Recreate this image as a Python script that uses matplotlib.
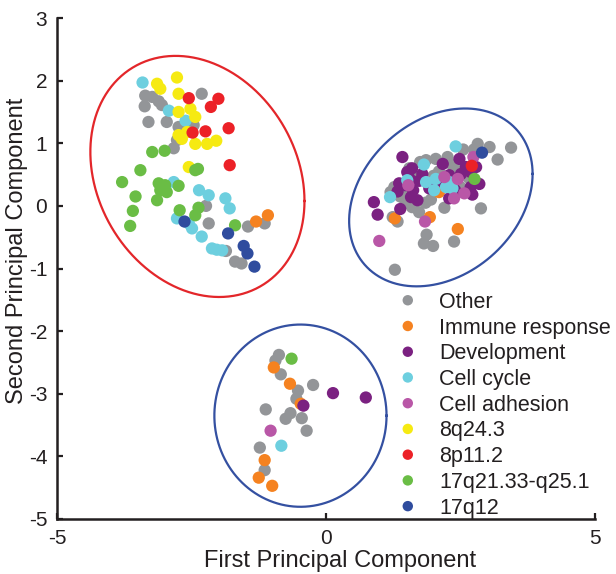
import numpy as np
import matplotlib
matplotlib.use("Agg")
import matplotlib.pyplot as plt

plt.rcParams['font.family'] = ['Liberation Sans', 'DejaVu Sans']
plt.rcParams['axes.unicode_minus'] = False

# ---------------- data ----------------
categories = ["Other", "Immune response", "Development", "Cell cycle",
              "Cell adhesion", "8q24.3", "8p11.2", "17q21.33-q25.1", "17q12"]
colors = ["#939598", "#F58220", "#7B2181", "#6DCFDF", "#B957A7",
          "#F6EA12", "#EC2127", "#6ABD45", "#2F4C9E"]

other_x = [-2.31, -3.36, -3.23, -3.11, -3.05, -3.37, -3.30, -2.96, -2.74, -2.46,
           -2.68, -2.77, -2.83, -2.23, -2.18, -1.45, -1.14, -1.86, -1.69, -1.57,
           1.28, 1.82, 1.99, 1.87, 2.38, 2.88, 1.24, 1.33, 1.73, 2.20,
           1.27, 1.20, 1.86, 2.04, 2.26, 2.82, 3.04, 3.19, 3.44, 1.48,
           1.60, 1.95, 2.10, 2.45, 2.65, 1.38, 1.70, 2.75,
           1.55, 1.75, 2.00, 2.35, 2.55, 1.45, 1.85, 2.50,
           -0.875, -0.94, -0.84, -0.24, -0.52, -0.55, -1.12, -0.66, -0.75, -0.45,
           -0.36, -1.23, -1.14]
other_y = [1.79, 1.76, 1.74, 1.67, 1.61, 1.59, 1.34, 1.34, 1.26, 1.29,
           1.18, 1.05, 0.92, 0.00, -0.28, -0.33, -0.28, -0.72, -0.89, -0.92,
           -1.02, -0.60, -0.64, -0.46, -0.57, -0.04, -0.18, -0.25, -0.10, -0.03,
           0.30, 0.22, 0.73, 0.75, 0.78, 0.99, 0.94, 0.74, 0.93, 0.05,
           -0.02, 0.10, 0.55, 0.60, 0.45, 0.15, 0.45, 0.90,
           0.60, 0.70, 0.48, 0.65, 0.90, 0.20, 0.05, 0.30,
           -2.38, -2.47, -2.69, -2.86, -2.95, -3.08, -3.25, -3.31, -3.40, -3.39,
           -3.59, -3.86, -4.22]

immune_x = [-1.30, -1.08, 1.28, 1.93, 2.45, 2.10,
            -0.97, -0.67, -0.47, -1.14, -1.25, -1.00]
immune_y = [-0.25, -0.15, -0.20, -0.18, -0.37, 0.22,
            -2.58, -2.84, -3.16, -4.06, -4.34, -4.47]

devel_x = [1.42, 0.89, 0.96, 1.38, 1.33, 1.51, 1.58, 1.70, 1.48, 1.36,
           1.79, 2.17, 1.92, 2.29, 2.48, 2.60, 2.69, 2.51, 2.69, 2.79,
           1.55, 1.73, 2.29, 2.72, 1.62, 1.60, 2.10, 2.40, 2.85,
           -0.42, 0.13, 0.74]
devel_y = [0.78, 0.06, -0.14, -0.05, 0.23, 0.54, 0.14, 0.09, 0.33, 0.36,
           0.51, 0.67, 0.28, 0.49, 0.75, 0.62, 0.30, 0.51, 0.54, 0.62,
           0.44, 0.40, 0.12, 0.18, 0.25, 0.60, 0.40, 0.25, 0.35,
           -3.19, -2.99, -3.06]

cycle_x = [-3.41, -2.92, -2.61, -2.83, -2.36, -2.18, -1.87, -1.79, -2.77, -2.49,
           -2.55, -2.31, -2.12, -1.93, -2.03,
           1.19, 1.51, 1.82, 1.86, 2.01, 2.04, 2.23, 2.35, 2.29, 2.41,
           -0.83]
cycle_y = [1.97, 1.52, 1.36, 0.38, 0.25, 0.17, 0.12, -0.04, -0.20, -0.36,
           -0.28, -0.49, -0.68, -0.71, -0.70,
           0.14, 0.41, 0.66, 0.38, 0.25, 0.43, 0.30, 0.28, 0.38, 0.95,
           -3.83]

adhesion_x = [0.99, 1.84, 1.53, 2.20, 2.38, 2.57, 2.45, 2.74, -1.03]
adhesion_y = [-0.56, -0.25, 0.33, 0.46, 0.12, 0.20, 0.43, 0.78, -3.59]

q243_x = [-3.14, -3.08, -2.77, -2.74, -2.74, -2.52, -2.43, -2.74, -2.68, -2.58,
          -2.43, -2.21, -2.04, -2.55]
q243_y = [1.95, 1.87, 2.05, 1.79, 1.50, 1.55, 1.42, 1.13, 1.07, 1.18,
          0.99, 0.99, 1.04, 0.62]

p112_x = [-2.55, -2.00, -2.14, -2.48, -2.24, -1.81, -1.79, 2.71]
p112_y = [1.72, 1.71, 1.58, 1.17, 1.19, 1.24, 0.65, 0.64]

q21_x = [-3.23, -3.00, -2.43, -2.38, -3.45, -3.79, -3.11, -2.99, -3.08, -2.96,
         -2.74, -3.54, -3.14, -3.59, -3.64, -2.72, -2.37, -2.43, -1.69,
         2.76, -0.64]
q21_y = [0.86, 0.88, 0.57, 0.59, 0.57, 0.38, 0.36, 0.33, 0.25, 0.22,
         0.32, 0.15, 0.09, -0.08, -0.32, -0.07, -0.03, -0.15, -0.31,
         0.43, -2.44]

q12_x = [-2.63, -1.82, -1.53, -1.46, -1.33, 2.90]
q12_y = [-0.25, -0.44, -0.64, -0.76, -0.97, 0.85]

series_x = [other_x, immune_x, devel_x, cycle_x, adhesion_x, q243_x, p112_x, q21_x, q12_x]
series_y = [other_y, immune_y, devel_y, cycle_y, adhesion_y, q243_y, p112_y, q21_y, q12_y]

# cluster outlines: centre x, centre y, half-width, half-height, x-y coupling
ellipse_cx = [-2.39, 2.135, -0.475]
ellipse_cy = [0.47, 0.135, -3.35]
ellipse_hx = [1.99, 1.705, 1.60]
ellipse_hy = [1.925, 1.42, 1.455]
ellipse_c = [-0.78, 0.64, 0.0]
ellipse_colors = ["#E3262A", "#3450A1", "#3450A1"]

# ---------------- plot ----------------
ink = "#231F20"
fig = plt.figure(figsize=(6.16, 5.74), dpi=100)
ax = fig.add_axes([57 / 616, 1 - 519 / 574, (595 - 57) / 616, (519 - 18) / 574])

for xs, ys, col, lab in zip(series_x, series_y, colors, categories):
    ax.scatter(xs, ys, s=78, color=col, edgecolors='none', label=lab, zorder=3)

t = np.linspace(0, 2 * np.pi, 400)
for cx, cy, hx, hy, c, col in zip(ellipse_cx, ellipse_cy, ellipse_hx, ellipse_hy,
                                  ellipse_c, ellipse_colors):
    ex = cx + hx * np.cos(t)
    ey = cy + (c / hx) * np.cos(t) + np.sqrt(hy ** 2 - (c / hx) ** 2) * np.sin(t)
    ax.plot(ex, ey, color=col, lw=1.6, zorder=2)

ax.set_xlim(-5, 5)
ax.set_ylim(-5, 3)
ax.set_xticks([-5, 0, 5])
ax.set_yticks([-5, -4, -3, -2, -1, 0, 1, 2, 3])
for side in ("top", "right"):
    ax.spines[side].set_visible(False)
for side in ("left", "bottom"):
    ax.spines[side].set_linewidth(1.8)
    ax.spines[side].set_color(ink)
ax.tick_params(direction='in', length=4, width=1.6, colors=ink,
               labelsize=15, pad=7)
ax.set_xlabel("First Principal Component", fontsize=17, color=ink)
ax.set_ylabel("Second Principal Component", fontsize=17, color=ink)
ax.xaxis.set_label_coords(0.526, -0.062)
ax.yaxis.set_label_coords(-0.074, 0.535)
ax.yaxis.label.set_verticalalignment('center')
ax.xaxis.label.set_verticalalignment('top')

leg = ax.legend(loc='upper left', bbox_to_anchor=(0.608, 0.475), frameon=False,
                fontsize=15.5, markerscale=0.85, handletextpad=0.85,
                labelspacing=0.22, borderpad=0, handlelength=1.2,
                scatteryoffsets=[0.5])
for txt in leg.get_texts():
    txt.set_color(ink)

fig.savefig("out.png", dpi=100)
